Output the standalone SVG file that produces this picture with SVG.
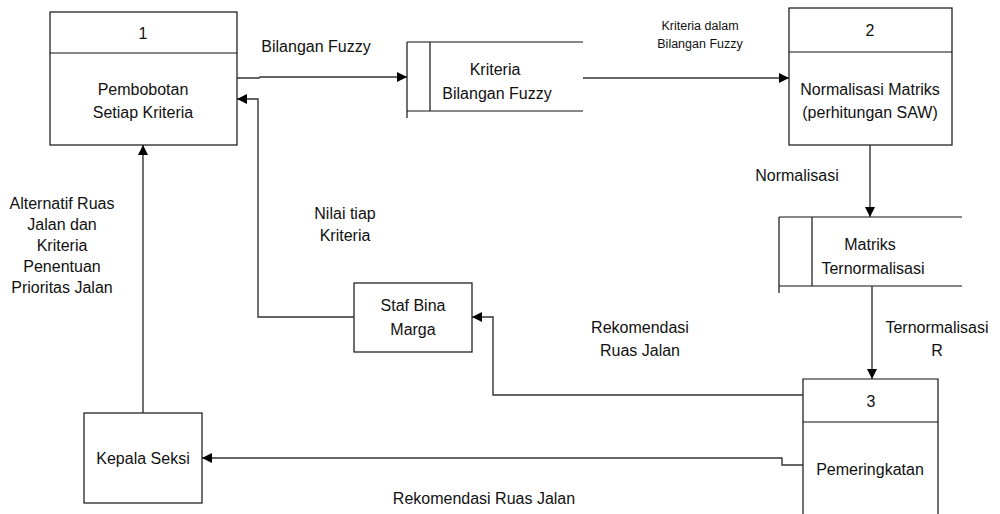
<svg xmlns="http://www.w3.org/2000/svg" width="1000" height="514" viewBox="0 0 1000 514">
  <style>
    .box { fill: #fff; stroke: #111; stroke-width: 1.2; }
    .ln { fill: none; stroke: #111; stroke-width: 1.2; }
    .flow { fill: none; stroke: #333; stroke-width: 1.4; }
    text { font-family: "Liberation Sans", Arial, sans-serif; font-size: 16px; fill: #111; text-anchor: middle; }
    .sm { font-size: 12.5px; }
  </style>
  <defs>
    <marker id="arr" viewBox="0 0 10 10" refX="10" refY="5" markerWidth="10" markerHeight="10" markerUnits="userSpaceOnUse" orient="auto">
      <path d="M0,0 L10,5 L0,10 Z" fill="#000"/>
    </marker>
  </defs>

  <!-- Process 1 -->
  <g id="p1">
    <rect class="box" x="50" y="12" width="187" height="133"/>
    <line class="ln" x1="50" y1="53" x2="237" y2="53"/>
    <text x="143" y="39">1</text>
    <text x="143" y="95">Pembobotan</text>
    <text x="143" y="118">Setiap Kriteria</text>
  </g>

  <!-- Data store: Kriteria Bilangan Fuzzy -->
  <g id="ds1">
    <line class="ln" x1="407" y1="42" x2="583" y2="42"/>
    <line class="ln" x1="407" y1="111" x2="583" y2="111"/>
    <line class="ln" x1="407" y1="42" x2="407" y2="118"/>
    <line class="ln" x1="430" y1="42" x2="430" y2="111"/>
    <text x="495" y="75">Kriteria</text>
    <text x="497" y="99">Bilangan Fuzzy</text>
  </g>

  <!-- Process 2 -->
  <g id="p2">
    <rect class="box" x="789" y="8" width="163" height="137"/>
    <line class="ln" x1="789" y1="52" x2="952" y2="52"/>
    <text x="870" y="36">2</text>
    <text x="870" y="95">Normalisasi Matriks</text>
    <text x="870" y="118">(perhitungan SAW)</text>
  </g>

  <!-- Data store: Matriks Ternormalisasi -->
  <g id="ds2">
    <line class="ln" x1="779" y1="217" x2="962" y2="217"/>
    <line class="ln" x1="779" y1="286" x2="962" y2="286"/>
    <line class="ln" x1="779" y1="217" x2="779" y2="293"/>
    <line class="ln" x1="812" y1="217" x2="812" y2="286"/>
    <text x="870" y="250">Matriks</text>
    <text x="873" y="274">Ternormalisasi</text>
  </g>

  <!-- Process 3 -->
  <g id="p3">
    <path class="ln" d="M803,514 V379 H938 V514"/>
    <line class="ln" x1="803" y1="422" x2="938" y2="422"/>
    <text x="871" y="407">3</text>
    <text x="870" y="475">Pemeringkatan</text>
  </g>

  <!-- External entity: Staf Bina Marga -->
  <g id="staf">
    <rect class="box" x="354" y="283" width="118" height="69"/>
    <text x="413" y="311">Staf Bina</text>
    <text x="413" y="335">Marga</text>
  </g>

  <!-- External entity: Kepala Seksi -->
  <g id="kepala">
    <rect class="box" x="84" y="413" width="118" height="90"/>
    <text x="143" y="464">Kepala Seksi</text>
  </g>

  <!-- Connectors -->
  <g id="connectors">
    <path class="flow" d="M237,78 H259 L260,77 H407" marker-end="url(#arr)"/>
    <path class="flow" d="M583,78 H789" marker-end="url(#arr)"/>
    <path class="flow" d="M870,145 V217" marker-end="url(#arr)"/>
    <path class="flow" d="M872,286 V379" marker-end="url(#arr)"/>
    <path class="flow" d="M803,395 H493 V317 H472" marker-end="url(#arr)"/>
    <path class="flow" d="M354,317 H258 V99 H237" marker-end="url(#arr)"/>
    <path class="flow" d="M803,465 H782 V458 H202" marker-end="url(#arr)"/>
    <path class="flow" d="M143,413 V145" marker-end="url(#arr)"/>
  </g>

  <!-- Flow labels -->
  <g id="labels">
    <text x="316" y="52">Bilangan Fuzzy</text>
    <text class="sm" x="700" y="30">Kriteria dalam</text>
    <text class="sm" x="700" y="48">Bilangan Fuzzy</text>
    <text x="797" y="181">Normalisasi</text>
    <text x="937" y="333">Ternormalisasi</text>
    <text x="937" y="356">R</text>
    <text x="345" y="219">Nilai tiap</text>
    <text x="345" y="241">Kriteria</text>
    <text x="640" y="333">Rekomendasi</text>
    <text x="640" y="356">Ruas Jalan</text>
    <text x="484" y="504">Rekomendasi Ruas Jalan</text>
    <text x="62" y="209">Alternatif Ruas</text>
    <text x="62" y="230">Jalan dan</text>
    <text x="62" y="251">Kriteria</text>
    <text x="62" y="272">Penentuan</text>
    <text x="62" y="293">Prioritas Jalan</text>
  </g>
</svg>
